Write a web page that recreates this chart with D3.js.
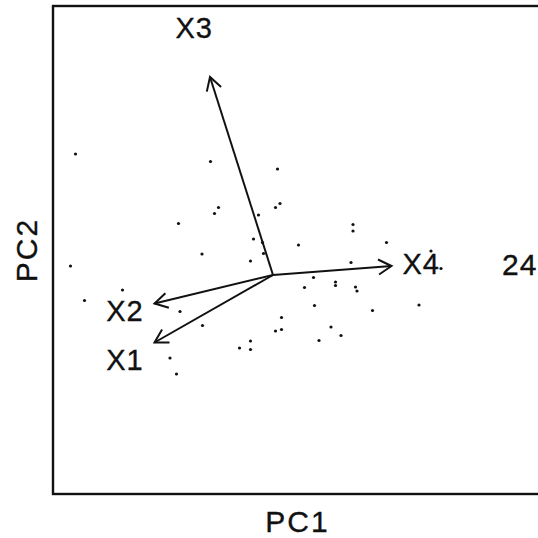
<!DOCTYPE html>
<html><head><meta charset="utf-8">
<script src="https://cdn.jsdelivr.net/npm/d3@7"></script>
<style>
html,body{margin:0;padding:0;background:#fff;}
text{font-family:"Liberation Sans",Arial,Helvetica,sans-serif;fill:#111;stroke:#111;stroke-width:0.35px;}
</style></head>
<body>
<svg id="chart" width="538" height="538"></svg>
<script>
// Observation scores (PC1, PC2)
const pc1 = [-3.95,-1.25,0.09,-1.09,-1.17,0.05,0.14,-0.29,-1.89,-0.39,-0.21,0.51,-1.42,-0.19,-0.45,-4.05,-3.01,-3.77,-1.86,0.17,0.05,0.17,-1.41,-0.45,-0.45,-0.67,-2.06,-1.93,1.60,1.60,2.27,1.56,3.36,0.81,0.63,1.25,1.25,1.65,1.68,0.83,1.99,2.92,1.16,1.36,0.92,3.16];
const pc2 = [2.42,2.27,2.12,1.35,1.23,1.35,1.43,1.20,1.03,0.72,0.65,0.60,0.42,0.43,0.28,0.18,-0.30,-0.51,-0.73,-0.85,-1.12,-1.09,-1.01,-1.32,-1.49,-1.46,-1.66,-1.98,1.01,0.88,0.65,0.25,0.13,-0.05,-0.25,-0.14,-0.21,-0.24,-0.32,-0.61,-0.71,-0.60,-1.04,-1.21,-1.31,0.48];
// Labelled observation
const labelledObs = [{label:"24", pc1:4.58, pc2:0.22}];
// Variable loadings
const variables = ["X1","X2","X3","X4"];
const load1 = [-2.37,-2.37,-1.26,2.37];
const load2 = [-1.35,-0.57,3.96,0.18];
const xDomain = [-4.4, 5.74];
const yDomain = [-4.38, 5.38];
const axisTitles = {x:"PC1", y:"PC2"};

const svg = d3.select("#chart");
const mL = 53, mT = 6, mB = 494, mR = 560;
const x = d3.scaleLinear().domain(xDomain).range([mL, mR]);
const y = d3.scaleLinear().domain(yDomain).range([mB, mT]);

// points
const pts = pc1.map((v,i)=>({x:v, y:pc2[i]}));
svg.append("g").selectAll("circle").data(pts).join("circle")
  .attr("cx", d=>x(d.x)).attr("cy", d=>y(d.y)).attr("r", 1.6).attr("fill","#111");

svg.append("g").selectAll("text").data(labelledObs).join("text")
  .attr("x", d=>x(d.pc1)).attr("y", d=>y(d.pc2)).attr("dy","0.36em")
  .attr("font-size", 30).attr("letter-spacing", 1).text(d=>d.label);

// arrows
const vars = variables.map((v,i)=>({name:v, a:load1[i], b:load2[i]}));
const ag = svg.append("g").attr("stroke","#111").attr("stroke-width",2).attr("fill","none");
const ahLen = 15, ahAng = Math.PI/6;
vars.forEach(v=>{
  const x0 = x(0), y0 = y(0), x1 = x(v.a), y1 = y(v.b);
  ag.append("line").attr("x1",x0).attr("y1",y0).attr("x2",x1).attr("y2",y1);
  const ang = Math.atan2(y1-y0, x1-x0);
  const p1 = [x1 - ahLen*Math.cos(ang-ahAng), y1 - ahLen*Math.sin(ang-ahAng)];
  const p2 = [x1 - ahLen*Math.cos(ang+ahAng), y1 - ahLen*Math.sin(ang+ahAng)];
  ag.append("path").attr("d", d3.line()([p1,[x1,y1],p2]));
});
svg.append("g").selectAll("text").data(vars).join("text")
  .attr("x", d=>x(d.a/0.8)).attr("y", d=>y(d.b/0.8)).attr("dy","0.36em")
  .attr("text-anchor","middle").attr("font-size", 29).attr("letter-spacing", 1)
  .text(d=>d.name);

// box
svg.append("rect").attr("x", mL).attr("y", mT).attr("width", mR-mL).attr("height", mB-mT)
  .attr("fill","none").attr("stroke","#111").attr("stroke-width",2.4);

// axis titles
svg.append("text").attr("x", (mL+538)/2 + 2).attr("y", 532).attr("text-anchor","middle")
  .attr("font-size", 30).attr("letter-spacing", 2).text(axisTitles.x);
svg.append("text").attr("transform", `translate(37,${(mT+mB)/2}) rotate(-90)`)
  .attr("text-anchor","middle").attr("font-size", 30).attr("letter-spacing", 2).text(axisTitles.y);
</script>
</body></html>
